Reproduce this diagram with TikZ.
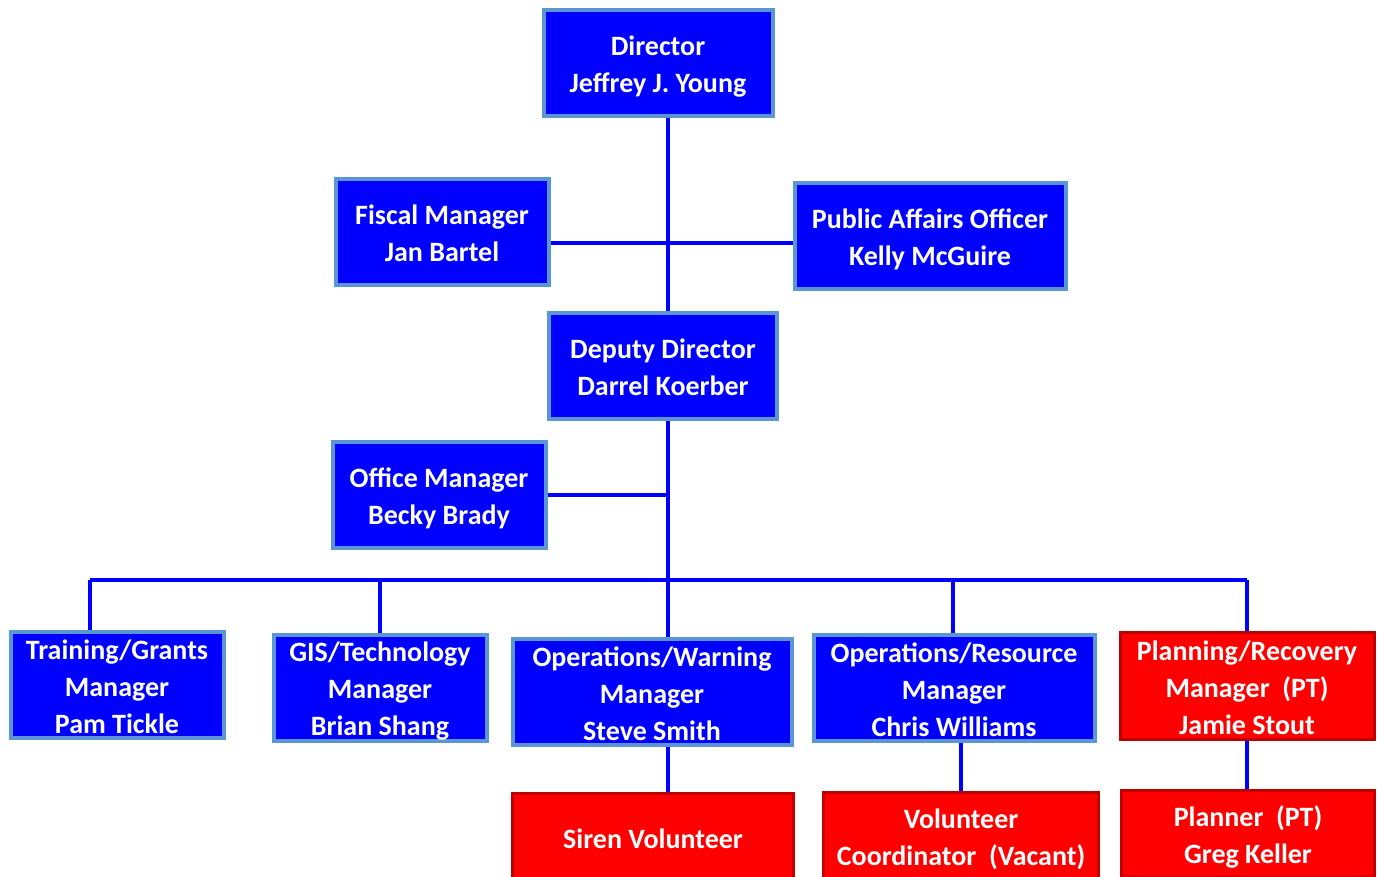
\documentclass[tikz,border=0pt]{standalone}
\usepackage{fontspec}
\setmainfont{Carlito}
\usetikzlibrary{positioning}

\definecolor{boxblue}{RGB}{0,0,255}
\definecolor{edgeblue}{RGB}{91,150,212}
\definecolor{boxred}{RGB}{255,0,0}
\definecolor{edgered}{RGB}{192,0,0}

% fixed line height for the first and last line of a box
\newcommand{\hi}{\rule{0pt}{26pt}}
\newcommand{\lo}{\rule[-4pt]{0pt}{4pt}}

\begin{document}
\begin{tikzpicture}[x=1pt, y=-1pt,
    box/.style = {text=white, font=\bfseries\fontsize{28}{37}\selectfont,
        align=center, inner sep=0pt},
    staff/.style = {box, draw=edgeblue, line width=4pt, fill=boxblue,
        minimum height=106pt},
    part/.style = {box, draw=edgered, line width=3pt, fill=boxred,
        minimum height=87pt},
    link/.style = {draw=boxblue, line width=4pt}]
    \useasboundingbox (0,0) rectangle (1377,877);

    \node[staff, minimum width=229pt] (dir) at (658,63) {\hi Director\\Jeffrey J. Young\lo};
    \node[staff, minimum width=213pt] (fiscal) at (442,232) {\hi Fiscal Manager\\Jan Bartel\lo};
    \node[staff, minimum width=271pt] (pao) at (930,236) {\hi Public Affairs Officer\\Kelly McGuire\lo};
    \node[staff, minimum width=228pt] (deputy) at (663,366) {\hi Deputy Director\\Darrel Koerber\lo};
    \node[staff, minimum width=213pt] (office) at (439,495) {\hi Office Manager\\Becky Brady\lo};

    \node[staff, minimum width=213pt] (train) at (117,685) {\hi Training/Grants\\Manager\\Pam Tickle\lo};
    \node[staff, minimum width=213pt] (gis) at (380,688) {\hi GIS/Technology\\Manager\\Brian Shang\lo};
    \node[staff, minimum width=279pt] (warn) at (652,692) {\hi Operations/Warning\\Manager\\Steve Smith\lo};
    \node[staff, minimum width=281pt] (res) at (954,688) {\hi Operations/Resource\\Manager\\Chris Williams\lo};
    \node[part, minimum width=254pt, minimum height=107pt] (plan) at (1247,686) {\hi Planning/Recovery\\Manager~~(PT)\\Jamie Stout\lo};

    \node[part, minimum width=281pt] (siren) at (653,837) {\hi Siren Volunteer\lo};
    \node[part, minimum width=275pt] (vol) at (961,836) {\hi Volunteer\\Coordinator~~(Vacant)\lo};
    \node[part, minimum width=253pt] (planner) at (1248,834) {\hi Planner~~(PT)\\Greg Keller\lo};

    % bus and branch points
    \coordinate (staffy) at (668,243);
    \coordinate (offy) at (668,495);
    \coordinate (busL) at (90,580);
    \coordinate (busG) at (380,580);
    \coordinate (busM) at (668,580);
    \coordinate (busO) at (953,580);
    \coordinate (busR) at (1247,580);

    \draw[link] (dir.south -| staffy) -- (deputy.north -| staffy);
    \draw[link] (fiscal.east |- staffy) -- (pao.west |- staffy);
    \draw[link] (deputy.south -| busM) -- (busM);
    \draw[link] (office.east |- offy) -- (offy);
    \draw[link] (busL) -- (busR);

    \draw[link] (busL) -- (busL |- train.north);
    \draw[link] (busG) -- (busG |- gis.north);
    \draw[link] (busM) -- (busM |- warn.north);
    \draw[link] (busO) -- (busO |- res.north);
    \draw[link] (busR) -- (busR |- plan.north);

    \draw[link] (warn.south -| busM) -- (siren.north -| busM);
    \draw[link] (res.south -| vol) -- (vol.north);
    \draw[link] (plan.south -| busR) -- (planner.north -| busR);
\end{tikzpicture}
\end{document}
